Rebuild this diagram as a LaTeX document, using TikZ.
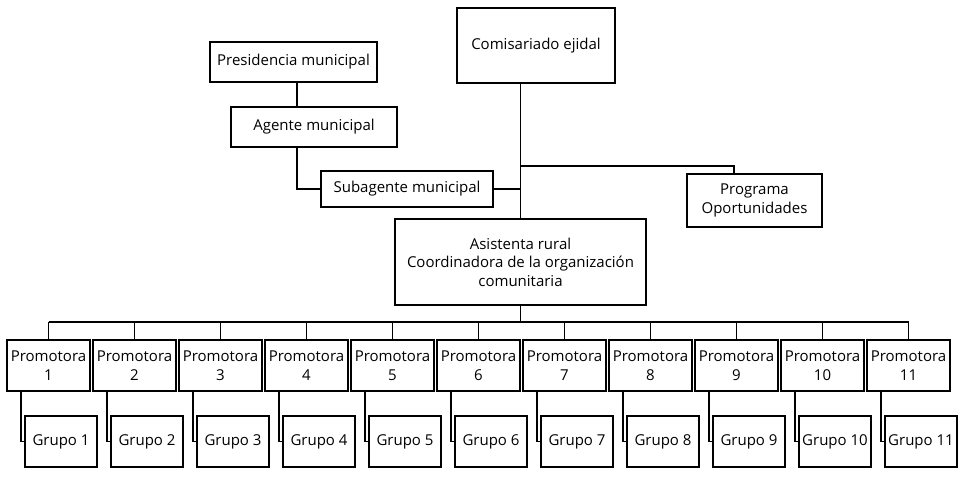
\documentclass[tikz,border=0pt]{standalone}
\usepackage{fontspec}
\setmainfont{Open Sans}
\begin{document}
\begin{tikzpicture}[x=1pt,y=-1pt,
  box/.style={draw, line width=1.1pt, inner sep=0pt, align=center, font=\fontsize{15}{18.5}\selectfont},
  conn/.style={line width=1.1pt}]
\useasboundingbox (0,0) rectangle (958,484);
\node[box, minimum width=167, minimum height=40] (pres) at (293.5,62) {Presidencia municipal};
\node[box, minimum width=158, minimum height=75] (com) at (536,45.5) {Comisariado ejidal};
\node[box, minimum width=166, minimum height=40] (age) at (314,127) {Agente municipal};
\node[box, minimum width=172, minimum height=36] (sub) at (407,189) {Subagente municipal};
\node[box, minimum width=135, minimum height=53] (prog) at (754.5,200.5) {Programa\\Oportunidades};
\node[box, minimum width=251, minimum height=86] (asis) at (520.5,262) {Asistenta rural\\Coordinadora de la organización\\comunitaria};
\coordinate (br) at (520.5,166);
\coordinate (bus) at (520.5,322);
\foreach \k in {1,...,11} {
  \node[box, minimum width=83, minimum height=51] (p\k) at ({48.5+86*(\k-1)},365.5) {Promotora\\\k};
  \node[box, minimum width=72, minimum height=51] (g\k) at ({61+86*(\k-1)},441.5) {Grupo \k};
  \draw[conn] (p\k.north |- bus) -- (p\k.north);
  \draw[conn] ([xshift=-27.5pt]p\k.south) |- (g\k.west);
}
\draw[conn] (p1.north |- bus) -- (p11.north |- bus);
\draw[conn] (asis.north |- com.south) -- (asis.north);
\draw[conn] (asis.south) -- (bus);
\draw[conn] (br) -| ([xshift=-20.5pt]prog.north);
\draw[conn] (sub.east) -- (sub.east -| asis.north);
\draw[conn] ([xshift=3.5pt]pres.south) -- ([xshift=3.5pt]pres.south |- age.north);
\draw[conn] ([xshift=3.5pt]pres.south |- age.south) |- (sub.west);
\end{tikzpicture}
\end{document}
